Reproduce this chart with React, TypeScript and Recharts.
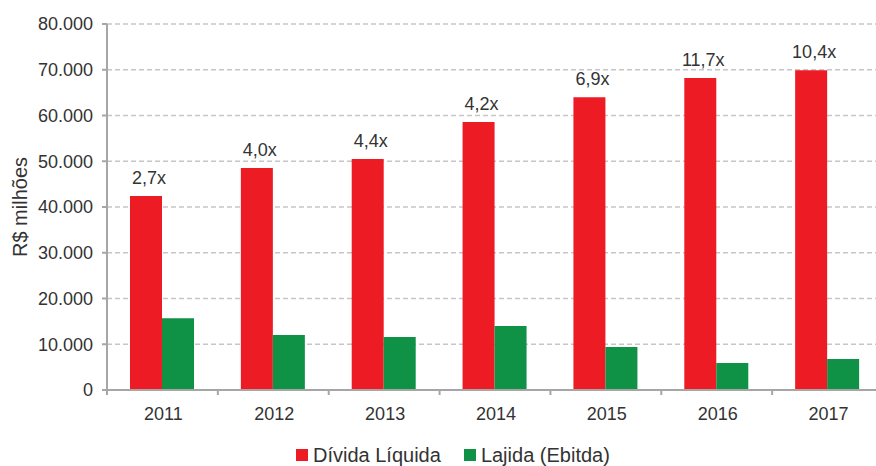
import { BarChart, Bar, XAxis, YAxis, CartesianGrid, LabelList, Legend } from "recharts";

const years = ["2011", "2012", "2013", "2014", "2015", "2016", "2017"];
const dividaLiquida = [42400, 48500, 50500, 58600, 64000, 68200, 69900];
const lajida = [15700, 12000, 11600, 14000, 9400, 5900, 6800];
const multiples = ["2,7x", "4,0x", "4,4x", "4,2x", "6,9x", "11,7x", "10,4x"];
const yTicks = [0, 10000, 20000, 30000, 40000, 50000, 60000, 70000, 80000];

const RED = "#ED1C24";
const GREEN = "#0F9245";
const TEXT = "#333333";
const AXIS = "#a6a6a6";
const FONT = "'Liberation Sans', Arial, sans-serif";

const CHART_W = 883;
const CHART_H = 480;
const Y_AXIS_W = 107;
const BAND = (CHART_W - Y_AXIS_W) / years.length;

const data = years.map((year, i) => ({
  year,
  divida: dividaLiquida[i],
  lajida: lajida[i],
  mult: multiples[i],
}));

const fmt = (v: number) => v.toLocaleString("de-DE");

/* x ticks: label at band centre, tick mark at band boundary */
function YearTick(props: any) {
  const { x, y, payload } = props;
  const left = x - BAND / 2;
  return (
    <g>
      <line x1={left} x2={left} y1={y - 17} y2={y - 12} stroke={AXIS} strokeWidth={2} />
      <text x={x + 1} y={y} dy="0.71em" textAnchor="middle" fill={TEXT} fontSize={18} fontFamily={FONT}>
        {payload.value}
      </text>
    </g>
  );
}

function LegendContent() {
  const items = [
    { name: "Dívida Líquida", color: RED },
    { name: "Lajida (Ebitda)", color: GREEN },
  ];
  return (
    <div style={{ display: "flex", alignItems: "center", height: 24, paddingLeft: 296, fontFamily: FONT }}>
      {items.map((it) => (
        <div key={it.name} style={{ display: "flex", alignItems: "center", marginRight: 23 }}>
          <span style={{ width: 12, height: 12, background: it.color, marginRight: 5, display: "inline-block" }} />
          <span style={{ fontSize: 20, lineHeight: "24px", color: TEXT }}>{it.name}</span>
        </div>
      ))}
    </div>
  );
}

export default function App() {
  return (
    <div
      style={{
        position: "fixed",
        top: 0,
        left: 0,
        width: 876,
        height: 466,
        overflow: "hidden",
        background: "#fff",
      }}
    >
      <BarChart
        width={CHART_W}
        height={CHART_H}
        data={data}
        margin={{ top: 24, right: 0, left: 0, bottom: 13 }}
        barGap={0}
        barSize={32}
      >
        <CartesianGrid vertical={false} stroke="#c6c6c6" strokeDasharray="5 3" strokeWidth={1.5} />
        <XAxis
          dataKey="year"
          height={53}
          axisLine={{ stroke: AXIS, strokeWidth: 2 }}
          tickLine={false}
          tickSize={5}
          tickMargin={12}
          tick={<YearTick />}
          interval={0}
        />
        <YAxis
          width={Y_AXIS_W}
          domain={[0, 80000]}
          ticks={yTicks}
          tickFormatter={fmt}
          axisLine={{ stroke: AXIS, strokeWidth: 2 }}
          tickLine={{ stroke: AXIS, strokeWidth: 2 }}
          tickSize={5}
          tickMargin={9}
          tick={{ fill: TEXT, fontSize: 18, fontFamily: FONT }}
          label={{
            value: "R$ milhões",
            angle: -90,
            position: "insideLeft",
            offset: 20,
            fill: TEXT,
            fontSize: 20,
            fontFamily: FONT,
            style: { textAnchor: "middle" },
          }}
        />
        <Legend verticalAlign="bottom" content={<LegendContent />} />
        <Bar dataKey="divida" name="Dívida Líquida" fill={RED} isAnimationActive={false}>
          <LabelList dataKey="mult" position="top" offset={12} dx={3} fill={TEXT} fontSize={18} fontFamily={FONT} />
        </Bar>
        <Bar dataKey="lajida" name="Lajida (Ebitda)" fill={GREEN} isAnimationActive={false} />
      </BarChart>
    </div>
  );
}
